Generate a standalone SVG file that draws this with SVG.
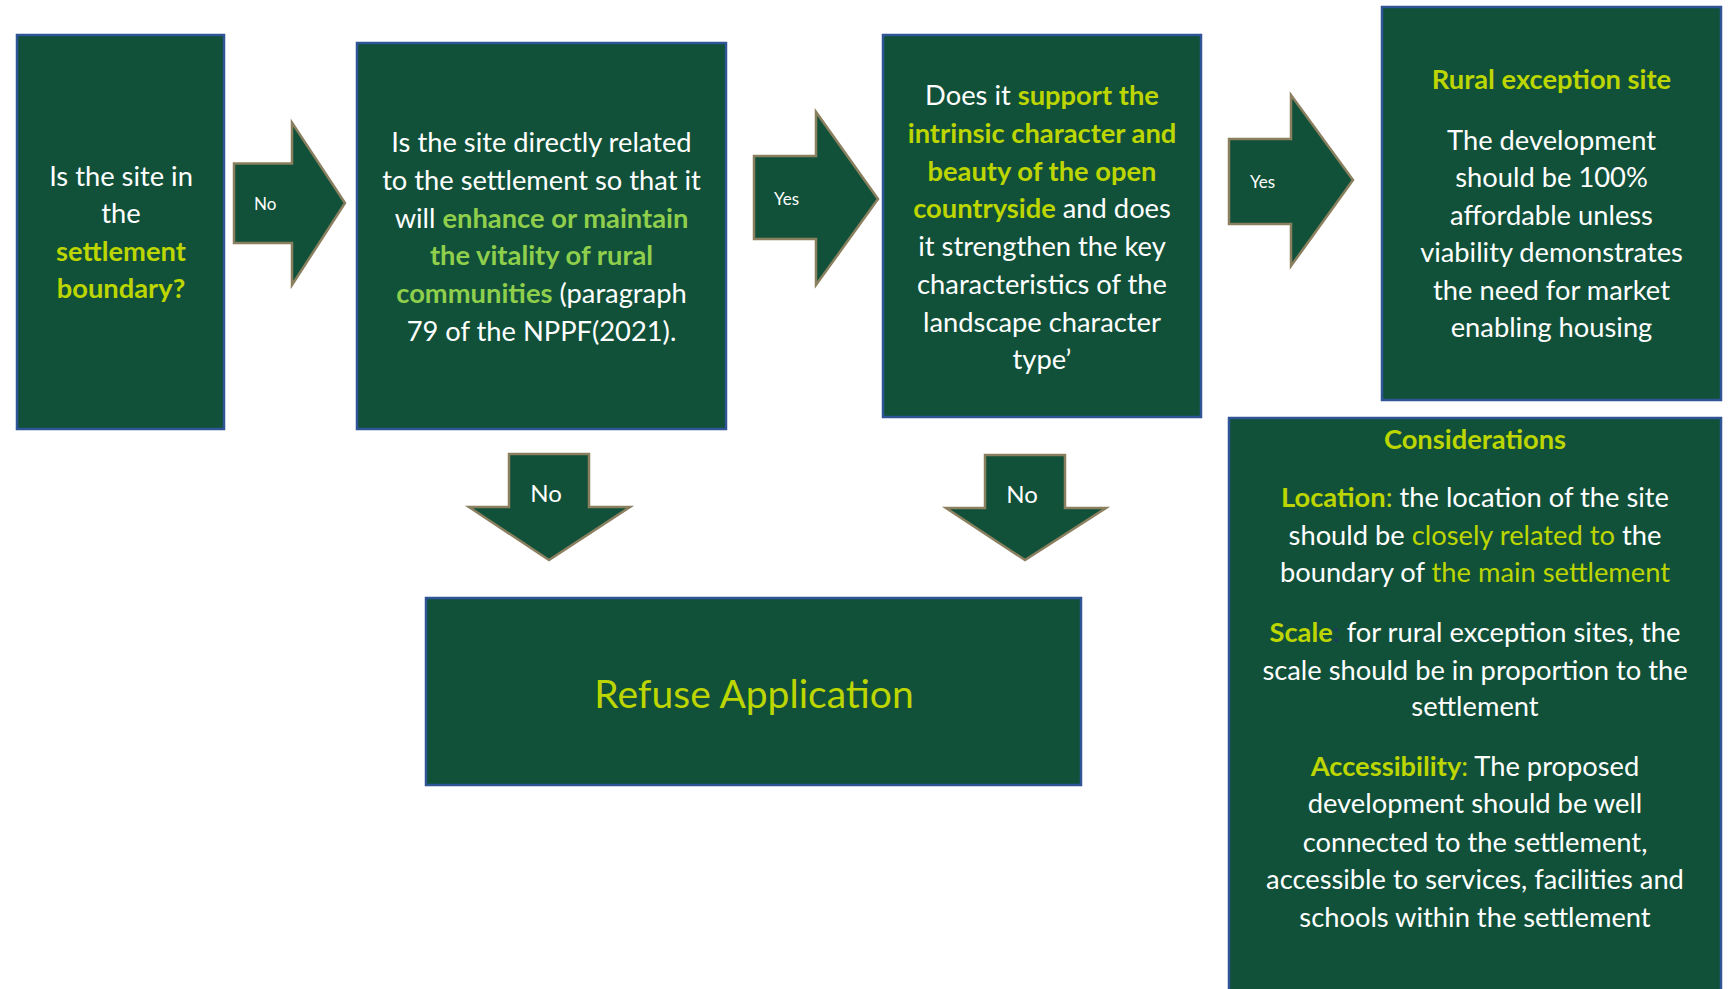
<svg xmlns="http://www.w3.org/2000/svg" width="1732" height="989" viewBox="0 0 1732 989">
<style>
.box{fill:#11513a;stroke:#2f5597;stroke-width:2.5}
.arr{fill:#11513a;stroke:#8a7f5f;stroke-width:2.5}
.t{font-family:Lato,"Liberation Sans",sans-serif;font-size:27.3px;fill:#ffffff;text-anchor:middle}
.lb{fill:#bdd600;font-weight:bold}
.ln{fill:#bdd600}
.gb{fill:#8fcf4c;font-weight:bold}
.sm{font-family:Lato,"Liberation Sans",sans-serif;font-size:17px;fill:#ffffff}
.md{font-family:Lato,"Liberation Sans",sans-serif;font-size:24px;fill:#ffffff;text-anchor:middle}
</style>
<rect width="1732" height="989" fill="#ffffff"/>
<g id="connectors">
<polygon class="arr" points="234,163.5 292,163.5 292,122.6 345,203 292,285 292,243 234,243"/>
<text class="sm" x="254" y="210">No</text>
<polygon class="arr" points="754,156 816,156 816,112 878,199 816,285 816,239 754,239"/>
<text class="sm" x="774" y="205">Yes</text>
<polygon class="arr" points="1229,139 1291,139 1291,95 1353,180 1291,266 1291,224 1229,224"/>
<text class="sm" x="1250" y="188">Yes</text>
<polygon class="arr" points="509,454 589,454 589,507 630,507 549,560 469,507 509,507"/>
<text class="md" x="546" y="502">No</text>
<polygon class="arr" points="985,455 1065,455 1065,508 1106,508 1025,560 946,508 985,508"/>
<text class="md" x="1022" y="503">No</text>
</g>
<g id="q-boundary">
<rect class="box" x="17" y="35" width="207" height="394"/>
<text class="t" x="121" y="186">Is the site in</text>
<text class="t" x="121" y="223">the</text>
<text class="t" x="121" y="261"><tspan class="lb">settlement</tspan></text>
<text class="t" x="121" y="298"><tspan class="lb">boundary?</tspan></text>
</g>
<g id="q-related">
<rect class="box" x="357" y="43" width="369" height="386"/>
<text class="t" x="541.5" y="152">Is the site directly related</text>
<text class="t" x="541.5" y="190">to the settlement so that it</text>
<text class="t" x="541.5" y="227.5">will <tspan class="gb">enhance or maintain</tspan></text>
<text class="t" x="541.5" y="265"><tspan class="gb">the vitality of rural</tspan></text>
<text class="t" x="541.5" y="302.5"><tspan class="gb">communities</tspan> (paragraph</text>
<text class="t" x="541.5" y="340.5">79 of the NPPF(2021).</text>
</g>
<g id="q-character">
<rect class="box" x="883" y="35" width="318" height="382"/>
<text class="t" x="1042" y="105">Does it <tspan class="lb">support the</tspan></text>
<text class="t" x="1042" y="143"><tspan class="lb">intrinsic character and</tspan></text>
<text class="t" x="1042" y="181"><tspan class="lb">beauty of the open</tspan></text>
<text class="t" x="1042" y="218"><tspan class="lb">countryside</tspan> and does</text>
<text class="t" x="1042" y="255.5">it strengthen the key</text>
<text class="t" x="1042" y="294">characteristics of the</text>
<text class="t" x="1042" y="331.5">landscape character</text>
<text class="t" x="1042" y="369">type’</text>
</g>
<g id="rural-exception">
<rect class="box" x="1382" y="7" width="339" height="393"/>
<text class="t" x="1551.5" y="89"><tspan class="lb">Rural exception site</tspan></text>
<text class="t" x="1551.5" y="150">The development</text>
<text class="t" x="1551.5" y="187">should be 100%</text>
<text class="t" x="1551.5" y="224.5">affordable unless</text>
<text class="t" x="1551.5" y="262">viability demonstrates</text>
<text class="t" x="1551.5" y="299.5">the need for market</text>
<text class="t" x="1551.5" y="337">enabling housing</text>
</g>
<g id="considerations">
<rect class="box" x="1229" y="418" width="492" height="590"/>
<text class="t" x="1475" y="448.5"><tspan class="lb">Considerations</tspan></text>
<text class="t" x="1475" y="507"><tspan class="lb">Location</tspan><tspan class="ln">:</tspan> the location of the site</text>
<text class="t" x="1475" y="544.5">should be <tspan class="ln">closely related to</tspan> the</text>
<text class="t" x="1475" y="582">boundary of <tspan class="ln">the main settlement</tspan></text>
<text class="t" x="1475" y="642"><tspan class="lb">Scale</tspan><tspan fill="#1f3864">:</tspan> for rural exception sites, the</text>
<text class="t" x="1475" y="679.5">scale should be in proportion to the</text>
<text class="t" x="1475" y="716">settlement</text>
<text class="t" x="1475" y="775.5"><tspan class="lb">Accessibility</tspan><tspan class="ln">:</tspan> The proposed</text>
<text class="t" x="1475" y="813">development should be well</text>
<text class="t" x="1475" y="851.5">connected to the settlement,</text>
<text class="t" x="1475" y="889">accessible to services, facilities and</text>
<text class="t" x="1475" y="927">schools within the settlement</text>
</g>
<g id="refuse">
<rect class="box" x="426" y="598" width="655" height="187"/>
<text class="t" x="754" y="708" style="font-size:39px"><tspan class="ln">Refuse Application</tspan></text>
</g>
</svg>
